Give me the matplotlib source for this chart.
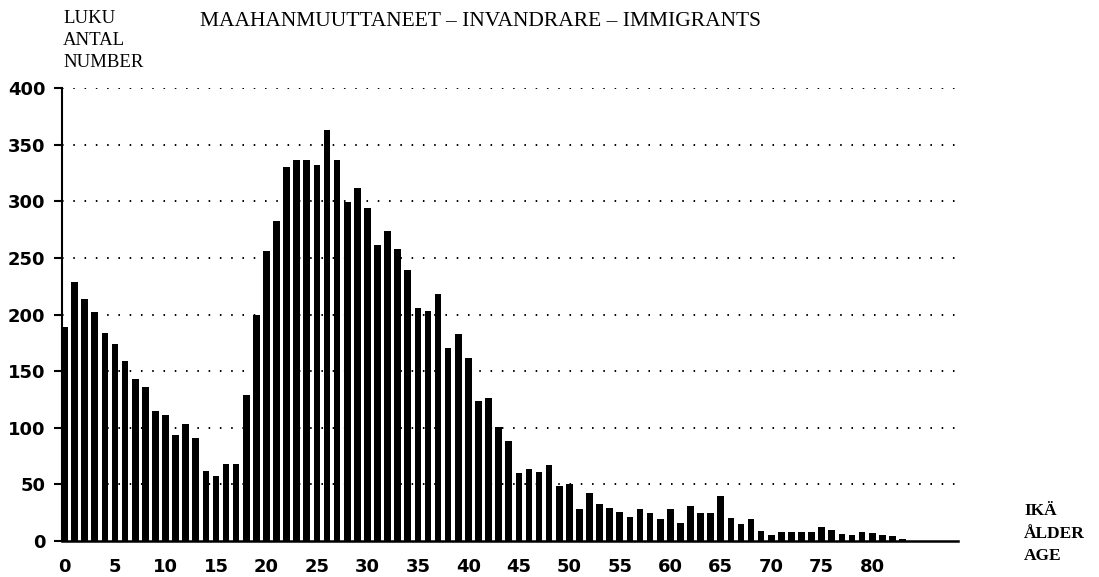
import numpy as np
import matplotlib
matplotlib.use('Agg')
import matplotlib.pyplot as plt

# immigrants by single year of age
ages = list(range(0, 84))
counts = [189, 229, 214, 202, 184, 174, 159, 143, 136, 115,
          111, 94, 103, 91, 62, 57, 68, 68, 129, 200,
          256, 283, 330, 336, 336, 332, 363, 336, 299, 312,
          294, 261, 274, 258, 239, 206, 203, 218, 170, 183,
          162, 124, 126, 101, 88, 60, 64, 61, 67, 49,
          50, 28, 42, 33, 29, 26, 21, 28, 25, 19,
          28, 16, 31, 25, 25, 40, 20, 15, 19, 9,
          5, 8, 8, 8, 8, 12, 10, 6, 5, 8,
          7, 5, 4, 2]
yticks = [0, 50, 100, 150, 200, 250, 300, 350, 400]
xticks = list(range(0, 81, 5))

title = 'MAAHANMUUTTANEET – INVANDRARE – IMMIGRANTS'
ylab_lines = ['LUKU', 'ANTAL', 'NUMBER']
xlab_lines = ['IKÄ', 'ÅLDER', 'AGE']

W, H = 1099, 577
fig = plt.figure(figsize=(W / 100, H / 100), dpi=100)
ax = fig.add_axes([62 / W, 1 - 541 / H, (958 - 62) / W, (541 - 88) / H])

ax.bar(ages, counts, width=0.66, color='black', zorder=3)
ax.set_xlim(-0.25, 88.5)
ax.set_ylim(0, 400)

for y in yticks[1:]:
    ax.axhline(y, color='black', lw=1.4, ls=(0, (0.8, 5)), zorder=1)

ax.spines['top'].set_visible(False)
ax.spines['right'].set_visible(False)
ax.spines['left'].set_linewidth(1.5)
ax.spines['bottom'].set_linewidth(1.8)

ax.set_yticks(yticks)
ax.set_xticks(xticks)
ax.tick_params(axis='y', direction='out', length=6, width=1.5, pad=6)
ax.tick_params(axis='x', length=0, pad=12)
for lab in ax.get_xticklabels() + ax.get_yticklabels():
    lab.set_fontfamily('DejaVu Sans')
    lab.set_fontweight('bold')
    lab.set_fontsize(13)

serif = 'Liberation Serif'
fig.text(200 / W, 1 - 26 / H, title, family=serif, fontsize=15.5, va='baseline', ha='left')
for line, base in zip(ylab_lines, [23, 45, 67]):
    fig.text(63 / W, 1 - base / H, line, family=serif, fontsize=13.5, va='baseline', ha='left')
for line, base in zip(xlab_lines, [515, 538, 560]):
    fig.text(1024 / W, 1 - base / H, line, family=serif, fontsize=12.5, fontweight='bold',
             va='baseline', ha='left')

fig.savefig('out.png', dpi=100)
